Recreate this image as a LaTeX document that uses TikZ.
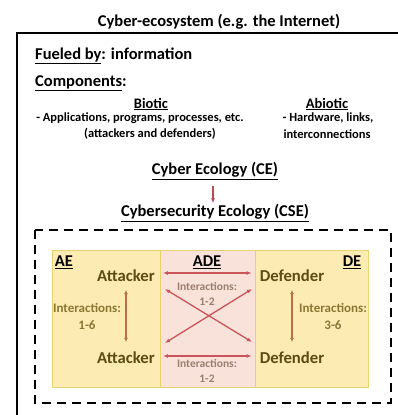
\documentclass[tikz,border=0pt]{standalone}
\usepackage{fontspec}
\setmainfont{Carlito}
\usepackage{tikz}
\usetikzlibrary{positioning, calc, arrows.meta}
\definecolor{ecoyellow}{HTML}{FCEBB2}
\definecolor{ecoedge}{HTML}{E6D36E}
\definecolor{ecopink}{HTML}{F9E2DA}
\definecolor{ecotext}{HTML}{5E4C12}
\definecolor{ecolight}{HTML}{8A7733}
\definecolor{ecogray}{HTML}{9A7F70}
\definecolor{ecored}{HTML}{C9555A}
\definecolor{ecobrown}{HTML}{B8704A}

\begin{document}
\begin{tikzpicture}[x=1pt, y=-1pt, font=\bfseries]
	\tikzstyle{headc}=[font=\fontsize{16.5}{18}\selectfont\bfseries, inner sep=0pt]
	\tikzstyle{subc}=[font=\fontsize{14.5}{16}\selectfont\bfseries, inner sep=0pt]
	\tikzstyle{smallc}=[font=\fontsize{12.5}{14}\selectfont\bfseries, inner sep=0pt]
	\tikzstyle{actorc}=[font=\fontsize{16.7}{18}\selectfont\bfseries, text=ecotext, inner sep=0pt]
	\tikzstyle{interc}=[font=\fontsize{13}{17}\selectfont\bfseries, align=center, inner sep=0pt]
	\tikzstyle{intersm}=[font=\fontsize{11.5}{15}\selectfont\bfseries, align=center, inner sep=0pt]
	\tikzstyle{zonec}=[draw=ecoedge, line width=1pt]
	\tikzstyle{redarr}=[draw=ecored, line width=1.3pt, {Latex[length=5pt,width=4pt]}-{Latex[length=5pt,width=4pt]}]
	\tikzstyle{brownarr}=[draw=ecobrown, line width=1.6pt, {Latex[length=4pt,width=4pt]}-{Latex[length=4pt,width=4pt]}]
	\useasboundingbox (0,0) rectangle (398,415);
	\fill[white] (0,0) rectangle (398,415);
	
	% outer ecosystem frame
	\node (title) at (219,22) [headc] {Cyber-ecosystem (e.g. the Internet)};
	\draw[line width=2pt] (17,415) -- (17,33) -- (398,33);
	
	\node (fuel) at (35,56) [headc, anchor=west] {\underline{Fueled by}: information};
	\node (comp) at (35,83) [headc, anchor=west] {\underline{Components}:};
	
	\node (biotic) at (151,104) [subc] {\underline{Biotic}};
	\node (bio1) at (140,118) [smallc] {- Applications, programs, processes, etc.};
	\node (bio2) at (150,134) [smallc] {(attackers and defenders)};
	\node (abiotic) at (327,104) [subc] {\underline{Abiotic}};
	\node (abio1) at (328,118) [smallc] {- Hardware, links,};
	\node (abio2) at (327,134) [smallc] {interconnections};
	
	\node (ce) at (215,171) [headc] {\underline{Cyber Ecology (CE)}};
	\node (cse) at (215,213) [headc] {\underline{Cybersecurity Ecology (CSE)}};
	\draw[draw=ecored!90!black, line width=1.1pt, -{Latex[length=5pt,width=4pt]}, shorten <=6pt, shorten >=1pt] ([xshift=-2pt]ce.south) -- ([xshift=-2pt]cse.north);
	
	% security ecology zones
	\draw[line width=2.5pt, dash pattern=on 9pt off 6pt] (35,230) rectangle (391,403);
	\node (ae) at (52,250) [zonec, fill=ecoyellow, minimum width=108pt, minimum height=137pt, anchor=north west] {};
	\node (ade) at (160,250) [zonec, fill=ecopink, minimum width=95pt, minimum height=137pt, anchor=north west] {};
	\node (de) at (255,250) [zonec, fill=ecoyellow, minimum width=113pt, minimum height=137pt, anchor=north west] {};
	
	\node (aelab) at (64,262) [headc] {\underline{AE}};
	\node (adelab) at (207,262) [headc] {\underline{ADE}};
	\node (delab) at (352,262) [headc] {\underline{DE}};
	
	\node (att1) at (126,276) [actorc] {Attacker};
	\node (att2) at (126,358) [actorc] {Attacker};
	\node (def1) at (292,276) [actorc] {Defender};
	\node (def2) at (292,358) [actorc] {Defender};
	
	\node (aeint) at (87,316) [interc, text=ecolight] {Interactions:\\1-6};
	\node (deint) at (333,316) [interc, text=ecolight] {Interactions:\\3-6};
	\node (adeint1) at (207,294) [intersm, text=ecogray] {Interactions:\\1-2};
	\node (adeint2) at (207,371) [intersm, text=ecogray] {Interactions:\\1-2};
	
	\draw[brownarr] (att1.south) ++(0,8) -- ($(att2.north)+(0,-10)$);
	\draw[brownarr] (def1.south) ++(0,8) -- ($(def2.north)+(0,-10)$);
	
	\coordinate (xa) at (165,289);
	\coordinate (xb) at (252,342);
	\coordinate (xc) at (165,343);
	\coordinate (xd) at (252,289);
	\draw[redarr, shorten <=8pt, shorten >=8pt] ([yshift=3pt]att1.east) -- ([yshift=3pt]def1.west);
	\draw[redarr, shorten <=8pt, shorten >=8pt] ([yshift=2pt]att2.east) -- ([yshift=2pt]def2.west);
	\draw[redarr] (xa) -- (xb);
	\draw[redarr] (xc) -- (xd);
\end{tikzpicture}
\end{document}
